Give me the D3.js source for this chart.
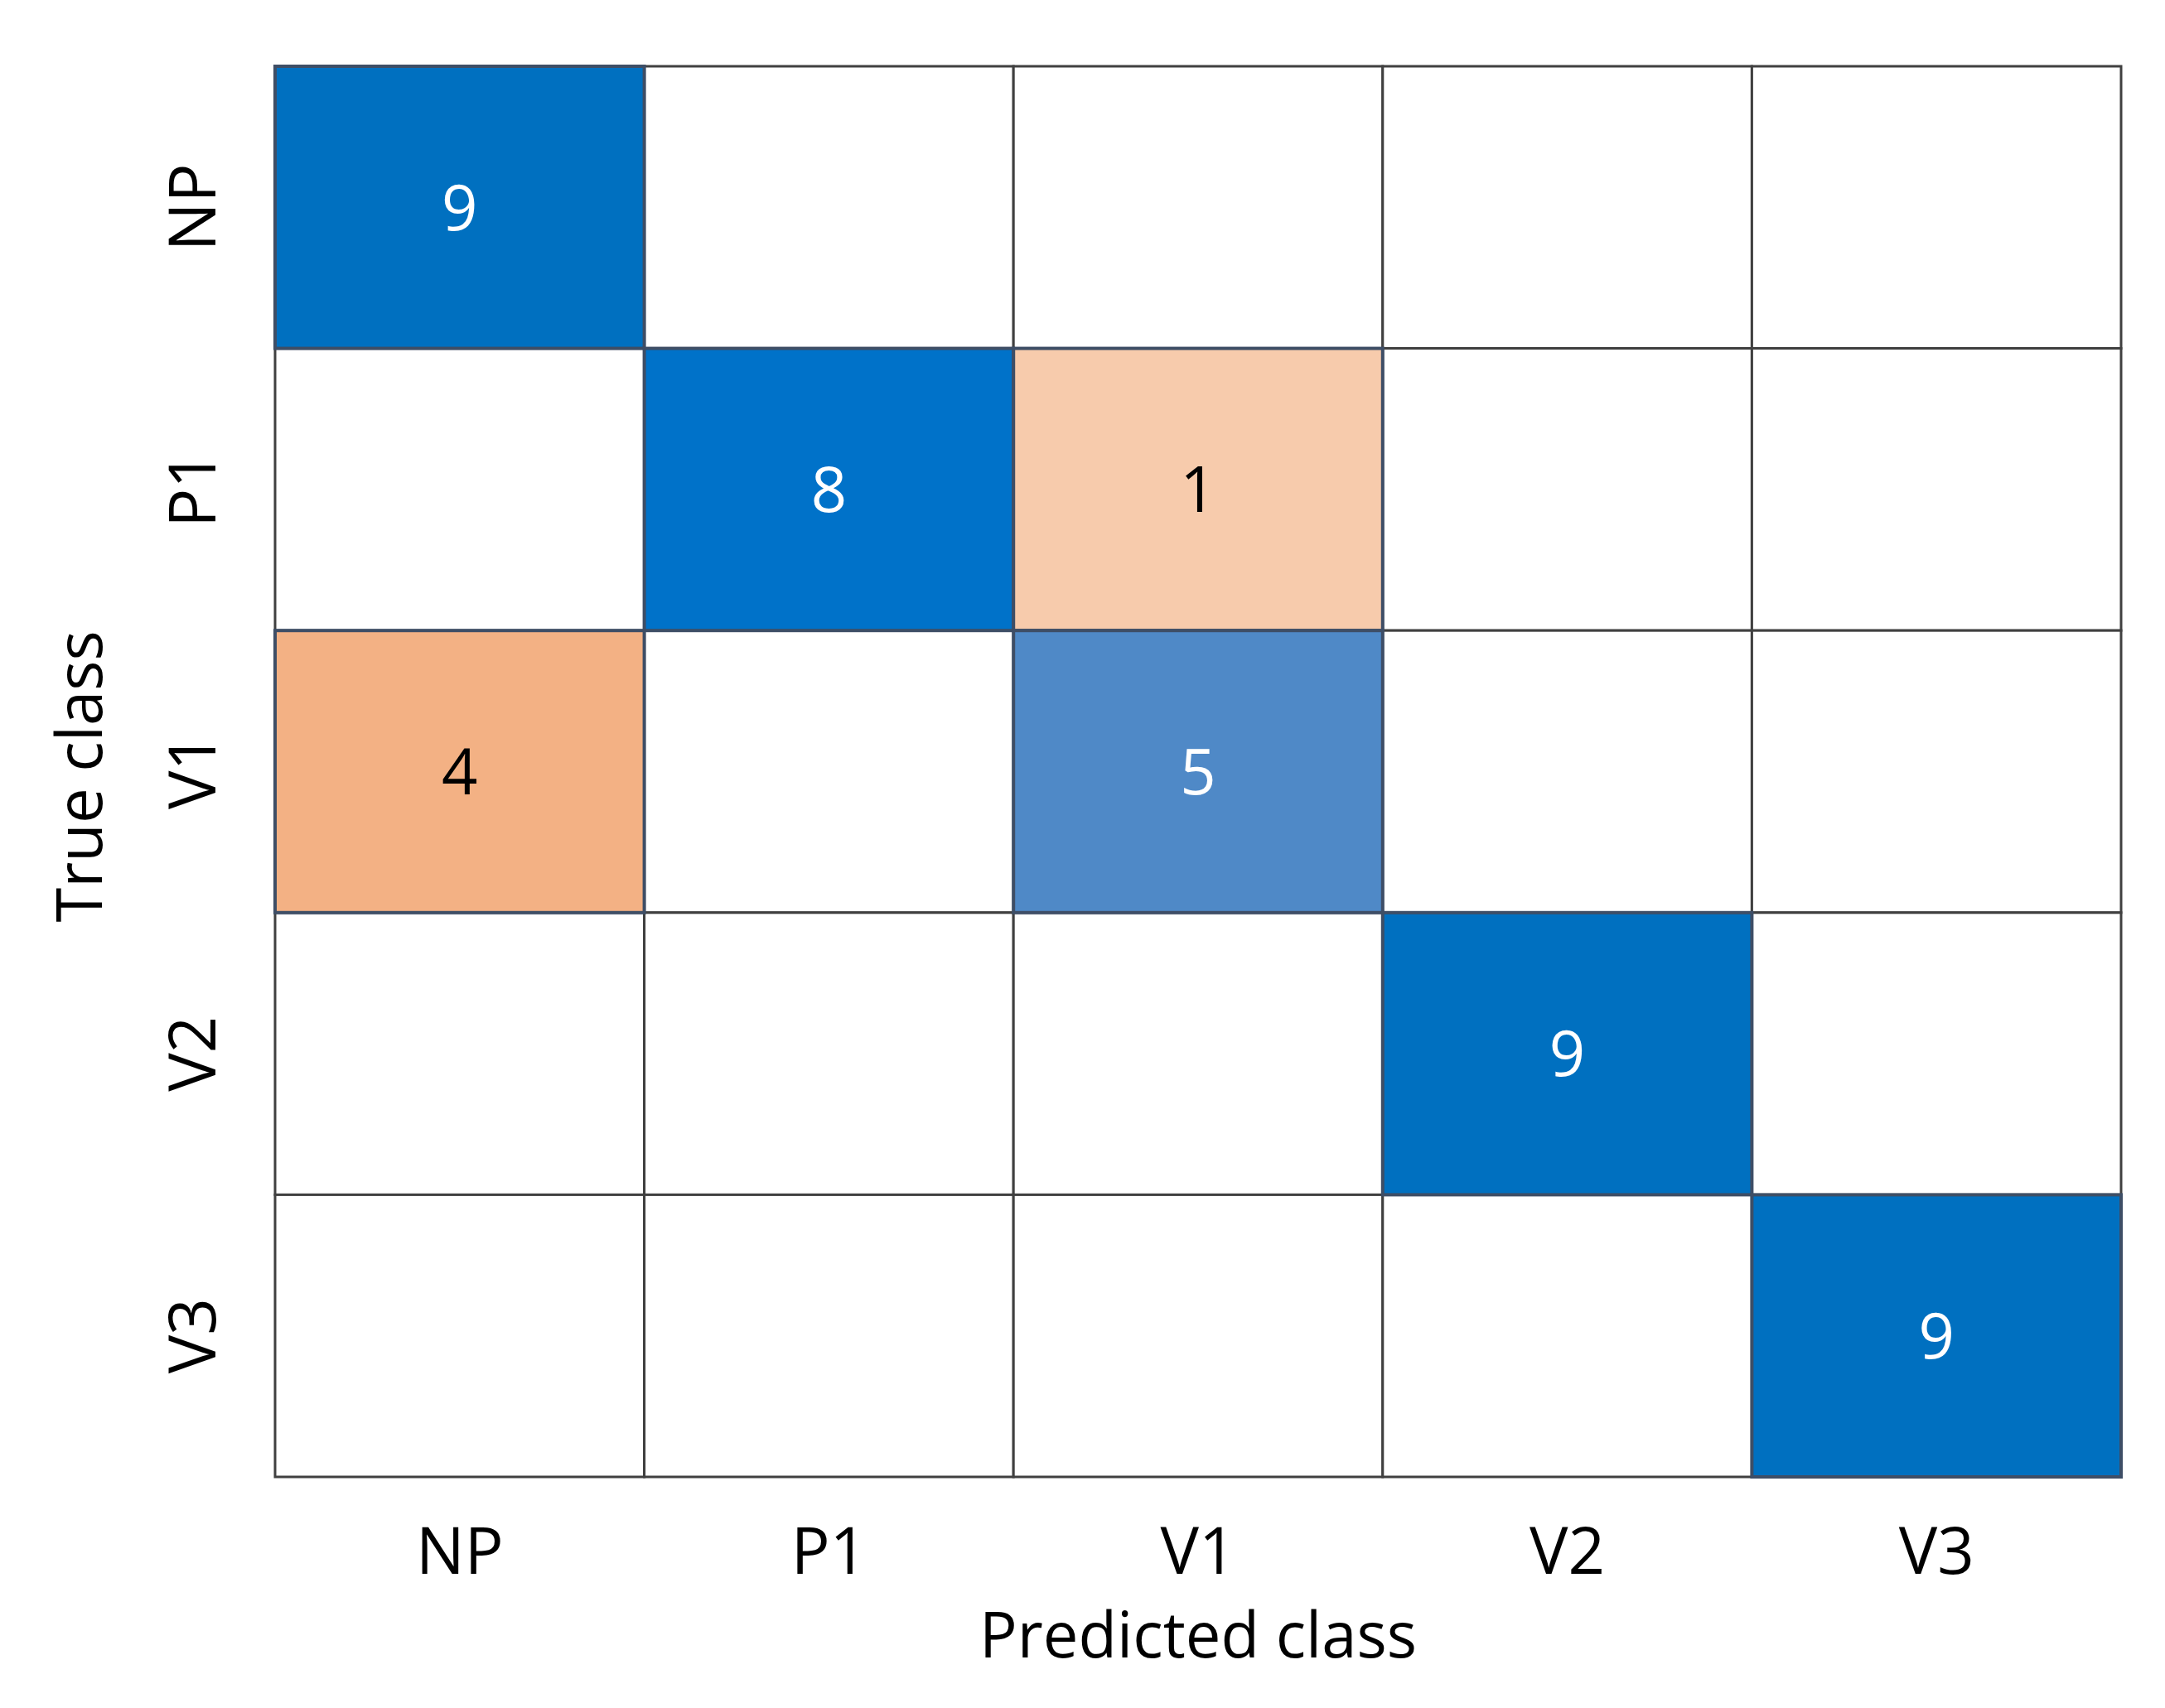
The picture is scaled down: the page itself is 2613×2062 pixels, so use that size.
<!DOCTYPE html>
<html>
<head>
<meta charset="utf-8">
<script src="https://cdn.jsdelivr.net/npm/d3@7"></script>
<style>
  html, body { margin: 0; padding: 0; background: #ffffff; }
  svg { display: block; }
  text { font-family: "Open Sans", "Noto Sans", sans-serif; }
</style>
</head>
<body>
<svg id="chart" width="2613" height="2062"></svg>
<script>
// ---- data ----
const predictedClasses = ["NP", "P1", "V1", "V2", "V3"];
const trueClasses = ["NP", "P1", "V1", "V2", "V3"];
// counts[trueRow][predictedCol]; 0 means empty cell
const rowNP = [9, 0, 0, 0, 0];
const rowP1 = [0, 8, 1, 0, 0];
const rowV1 = [4, 0, 5, 0, 0];
const rowV2 = [0, 0, 0, 9, 0];
const rowV3 = [0, 0, 0, 0, 9];
const counts = [rowNP, rowP1, rowV1, rowV2, rowV3];
const xTitle = "Predicted class";
const yTitle = "True class";

(function () {
// ---- layout ----
const svg = d3.select("#chart");
const gLeft = 332, gRight = 2560, gTop = 80, gBottom = 1783;

const x = d3.scaleBand().domain(predictedClasses).range([gLeft, gRight]).padding(0);
const y = d3.scaleBand().domain(trueClasses).range([gTop, gBottom]).padding(0);

function cellFill(v, r, c) {
  if (v === 0) return "#ffffff";
  if (r === c) {
    if (v >= 9) return "#0070C0";
    if (v >= 8) return "#0072C9";
    return "#4F89C7";
  }
  if (v >= 4) return "#F3B184";
  return "#F7CBAC";
}

const cells = [];
counts.forEach((row, r) => row.forEach((v, c) => cells.push({ r, c, v })));

// white cells with grid lines
svg.append("g").selectAll("rect")
  .data(cells.filter(d => d.v === 0))
  .join("rect")
  .attr("x", d => x(predictedClasses[d.c]))
  .attr("y", d => y(trueClasses[d.r]))
  .attr("width", x.bandwidth())
  .attr("height", y.bandwidth())
  .attr("fill", "#ffffff")
  .attr("stroke", "#404040")
  .attr("stroke-width", 3);

// coloured cells on top
svg.append("g").selectAll("rect")
  .data(cells.filter(d => d.v !== 0))
  .join("rect")
  .attr("x", d => x(predictedClasses[d.c]))
  .attr("y", d => y(trueClasses[d.r]))
  .attr("width", x.bandwidth())
  .attr("height", y.bandwidth())
  .attr("fill", d => cellFill(d.v, d.r, d.c))
  .attr("stroke", "#3E4E66")
  .attr("stroke-width", 4);

// cell numbers
svg.append("g").selectAll("text")
  .data(cells.filter(d => d.v !== 0))
  .join("text")
  .attr("x", d => x(predictedClasses[d.c]) + x.bandwidth() / 2)
  .attr("y", d => y(trueClasses[d.r]) + y.bandwidth() / 2)
  .attr("dy", "0.36em")
  .attr("text-anchor", "middle")
  .attr("font-size", 76)
  .attr("fill", d => (d.r === d.c ? "#ffffff" : "#000000"))
  .text(d => d.v);

// x axis (ticks only)
const xAxis = d3.axisBottom(x).tickSize(0).tickPadding(0);
const gx = svg.append("g").attr("transform", `translate(0, 1900)`).call(xAxis);
gx.select(".domain").remove();
gx.selectAll("text")
  .attr("font-size", 78)
  .attr("fill", "#000")
  .attr("dy", "0")
  .attr("y", 0)
  .style("font-family", "'Open Sans', sans-serif");

// y axis (ticks only, rotated)
const gy = svg.append("g");
gy.selectAll("text")
  .data(trueClasses)
  .join("text")
  .attr("transform", d => `translate(260, ${y(d) + y.bandwidth() / 2}) rotate(-90)`)
  .attr("text-anchor", "middle")
  .attr("font-size", 78)
  .attr("fill", "#000")
  .text(d => d);

// axis titles
svg.append("text")
  .attr("x", (gLeft + gRight) / 2)
  .attr("y", 2001)
  .attr("text-anchor", "middle")
  .attr("font-size", 76)
  .attr("fill", "#000")
  .text(xTitle);

svg.append("text")
  .attr("transform", `translate(123, ${(gTop + gBottom) / 2 + 6}) rotate(-90)`)
  .attr("text-anchor", "middle")
  .attr("font-size", 76)
  .attr("fill", "#000")
  .text(yTitle);
})();
</script>
</body>
</html>
